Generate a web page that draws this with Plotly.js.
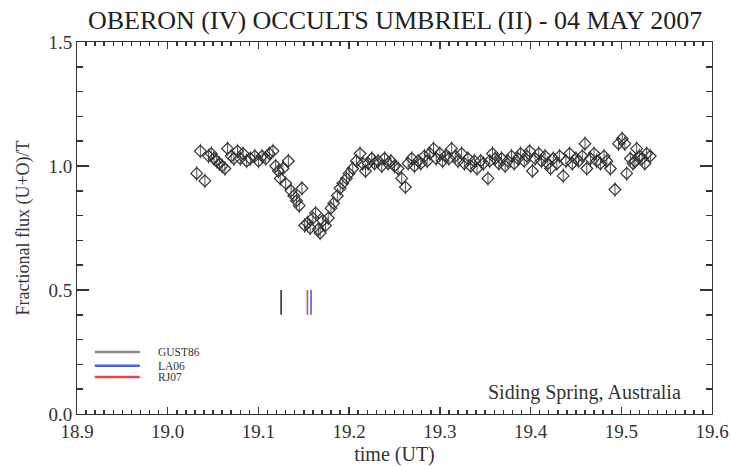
<!DOCTYPE html>
<html>
<head>
<meta charset="utf-8">
<script src="https://cdn.plot.ly/plotly-3.0.1.min.js"></script>
<style>html,body{margin:0;padding:0;background:#fff;}#chart{width:732px;height:466px;}</style>
</head>
<body>
<div id="chart"></div>
<script>
// Observation times (UT hours)
const times = [
  19.032,19.036,19.041,19.045,19.048,19.051,19.054,19.057,19.060,19.063,
  19.066,19.070,19.073,19.077,19.080,19.083,19.087,19.091,19.096,19.100,
  19.104,19.108,19.112,19.116,19.119,19.122,19.124,19.127,19.130,19.133,
  19.136,19.139,19.142,19.145,19.148,19.151,19.154,19.157,19.160,19.163,
  19.166,19.168,19.171,19.174,19.177,19.180,19.183,19.187,19.190,19.193,
  19.197,19.200,19.204,19.208,19.212,19.215,19.218,19.221,19.225,19.228,
  19.232,19.236,19.239,19.243,19.246,19.250,19.254,19.258,19.262,19.265,
  19.269,19.272,19.276,19.279,19.283,19.286,19.289,19.293,19.296,19.300,
  19.303,19.306,19.310,19.313,19.317,19.320,19.324,19.327,19.331,19.334,
  19.338,19.341,19.345,19.348,19.353,19.355,19.358,19.361,19.365,19.368,
  19.372,19.375,19.379,19.382,19.386,19.389,19.393,19.396,19.399,19.402,
  19.405,19.409,19.412,19.416,19.419,19.422,19.425,19.429,19.432,19.436,
  19.439,19.443,19.446,19.450,19.453,19.457,19.460,19.462,19.466,19.470,
  19.473,19.477,19.481,19.484,19.488,19.493,19.497,19.501,19.504,19.506,
  19.510,19.513,19.515,19.517,19.520,19.523,19.526,19.528,19.532
];
// Fractional flux (U+O)/T
const flux = [
  0.97,1.06,0.94,1.04,1.05,1.03,1.02,1.01,1.00,0.99,
  1.07,1.04,1.03,1.06,1.03,1.05,1.02,1.03,1.04,1.02,
  1.04,1.03,1.05,1.06,1.00,0.98,0.95,0.99,0.93,1.02,
  0.90,0.88,0.86,0.84,0.91,0.76,0.77,0.75,0.79,0.81,
  0.745,0.73,0.78,0.76,0.79,0.83,0.85,0.88,0.91,0.93,
  0.95,0.97,0.99,1.02,1.05,1.01,0.98,1.01,1.03,1.01,
  1.02,1.00,1.03,1.01,1.02,1.00,0.99,0.95,0.915,1.01,
  1.03,1.00,1.02,1.01,1.04,1.02,1.05,1.07,1.03,1.05,
  1.02,1.04,1.03,1.07,1.04,1.02,1.05,1.01,1.03,1.00,
  1.02,0.99,1.02,1.01,0.95,1.02,1.05,1.03,1.01,1.03,
  1.00,1.02,1.04,1.01,1.03,1.05,1.02,1.04,1.06,0.98,
  1.03,1.05,1.02,1.04,1.01,0.99,1.03,1.01,1.04,0.96,
  1.02,1.05,1.01,1.03,1.02,1.04,1.09,0.99,1.03,1.05,
  1.02,1.01,1.04,1.02,0.99,0.905,1.09,1.11,1.09,0.97,
  1.03,1.01,1.02,1.07,1.04,1.03,1.01,1.05,1.04
];
const fluxErr = 0.03;

// Predicted mid-event times from the three ephemerides
const predNames  = ['GUST86', 'LA06', 'RJ07'];
const predTimes  = [19.125, 19.158, 19.154];
const predColors = ['#333333', '#4a5cf0', '#e04848'];
const legendColors = ['#8a8a8a', '#4a5cf0', '#e04848'];
const predLow = 0.40, predHigh = 0.50;

const FONT = 'Liberation Serif, Times New Roman, serif';
const AX = '#333';

const traces = [{
  x: times, y: flux, type: 'scatter', mode: 'markers',
  marker: {symbol: 'diamond-open', size: 9, color: '#333', line: {width: 1.2, color: '#333'}},
  error_y: {type: 'constant', value: fluxErr, thickness: 1, width: 0, color: '#555'},
  showlegend: false, hoverinfo: 'x+y'
}];
predNames.forEach((n, i) => {
  traces.push({
    x: [predTimes[i], predTimes[i]], y: [predLow, predHigh], type: 'scatter', mode: 'lines',
    line: {color: predColors[i], width: 1.6}, name: n, showlegend: false
  });
});

// Legend drawn as paper-space decoration
const shapes = [], annotations = [];
const legY = [0.167, 0.130, 0.0995];
predNames.forEach((n, i) => {
  shapes.push({type: 'line', xref: 'paper', yref: 'paper', x0: 0.028, x1: 0.099, y0: legY[i], y1: legY[i],
    line: {color: legendColors[i], width: 2.5}});
  annotations.push({xref: 'paper', yref: 'paper', x: 0.124, y: legY[i], xanchor: 'left', yanchor: 'middle',
    text: n, showarrow: false, font: {family: FONT, size: 11.5, color: '#333'}});
});
annotations.push({xref: 'paper', yref: 'paper', x: 0.954, y: 0.059, xanchor: 'right', yanchor: 'middle',
  text: 'Siding Spring, Australia', showarrow: false, font: {family: FONT, size: 20, color: '#333'}});

const layout = {
  width: 732, height: 466,
  margin: {l: 77, r: 20, t: 42, b: 52},
  paper_bgcolor: '#fff', plot_bgcolor: '#fff',
  font: {family: FONT, color: '#333'},
  title: {text: 'OBERON (IV) OCCULTS UMBRIEL (II) - 04 MAY 2007', font: {family: FONT, size: 26, color: '#222'},
    x: 0.5398, xref: 'container', xanchor: 'center', y: 0.958, yref: 'container', yanchor: 'middle'},
  xaxis: {
    range: [18.9, 19.6], tickmode: 'linear', tick0: 18.9, dtick: 0.1, tickformat: '.1f',
    ticks: 'inside', ticklen: 7, tickcolor: AX, tickwidth: 1.5, layer: 'above traces',
    minor: {dtick: 0.01, tick0: 18.9, ticks: 'inside', ticklen: 4, tickcolor: AX, tickwidth: 1.5, showgrid: false},
    showline: true, linecolor: AX, linewidth: 1, mirror: 'ticks',
    showgrid: false, zeroline: false,
    tickfont: {family: FONT, size: 19, color: '#333'},
    title: {text: 'time (UT)', font: {family: FONT, size: 20, color: '#333'}, standoff: 6}
  },
  yaxis: {
    range: [0, 1.5], tickmode: 'linear', tick0: 0, dtick: 0.5, tickformat: '.1f',
    ticks: 'inside', ticklen: 12, tickcolor: AX, tickwidth: 1.5, layer: 'above traces',
    minor: {dtick: 0.1, tick0: 0, ticks: 'inside', ticklen: 6, tickcolor: AX, tickwidth: 1.5, showgrid: false},
    showline: true, linecolor: AX, linewidth: 1, mirror: 'ticks',
    showgrid: false, zeroline: false,
    tickfont: {family: FONT, size: 19, color: '#333'},
    title: {text: 'Fractional flux (U+O)/T', font: {family: FONT, size: 18, color: '#333'}, standoff: 14}
  },
  shapes: shapes, annotations: annotations, showlegend: false
};

Plotly.newPlot('chart', traces, layout, {staticPlot: true, displayModeBar: false});
</script>
</body>
</html>
